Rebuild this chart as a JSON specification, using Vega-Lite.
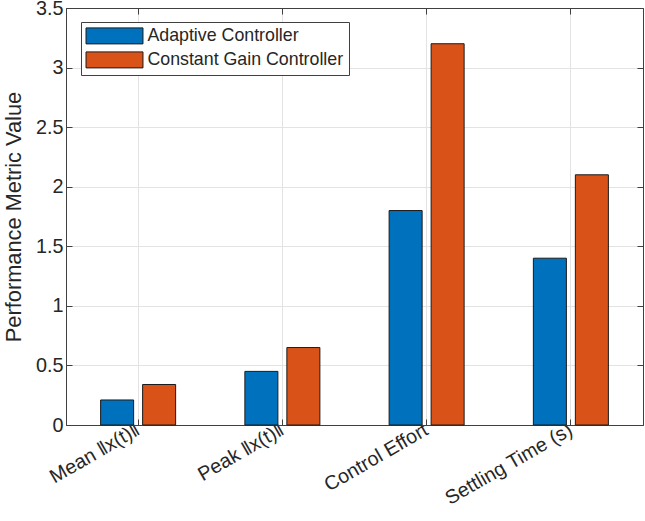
{
  "$schema": "https://vega.github.io/schema/vega-lite/v6.json",
  "width": 577,
  "height": 417,
  "autosize": {"type": "none"},
  "padding": {"left": 66, "top": 8, "right": 2, "bottom": 96},
  "background": "white",
  "config": {
    "font": "Liberation Sans",
    "view": {"stroke": "#404040", "strokeWidth": 1},
    "axis": {
      "domainColor": "#404040",
      "tickColor": "#404040",
      "gridColor": "#e3e3e3",
      "gridWidth": 1,
      "labelColor": "#262626",
      "titleColor": "#262626",
      "labelFont": "Liberation Sans",
      "titleFont": "Liberation Sans",
      "titleFontWeight": "normal"
    }
  },
  "data": {
    "values": [
      {"metric": "Mean ‖x(t)‖", "controller": "Adaptive Controller", "value": 0.21},
      {"metric": "Mean ‖x(t)‖", "controller": "Constant Gain Controller", "value": 0.34},
      {"metric": "Peak ‖x(t)‖", "controller": "Adaptive Controller", "value": 0.45},
      {"metric": "Peak ‖x(t)‖", "controller": "Constant Gain Controller", "value": 0.65},
      {"metric": "Control Effort", "controller": "Adaptive Controller", "value": 1.8},
      {"metric": "Control Effort", "controller": "Constant Gain Controller", "value": 3.2},
      {"metric": "Settling Time (s)", "controller": "Adaptive Controller", "value": 1.4},
      {"metric": "Settling Time (s)", "controller": "Constant Gain Controller", "value": 2.1}
    ]
  },
  "layer": [
    {
      "mark": {"type": "bar", "stroke": "#1a1a1a", "strokeWidth": 1},
      "encoding": {
        "x": {
          "field": "metric",
          "type": "nominal",
          "sort": ["Mean ‖x(t)‖", "Peak ‖x(t)‖", "Control Effort", "Settling Time (s)"],
          "scale": {"paddingInner": 0, "paddingOuter": 0},
          "axis": {
            "orient": "bottom",
            "title": null,
            "labelAngle": -30,
            "labelAlign": "right",
            "labelBaseline": "middle",
            "labelFontSize": 19.8,
            "labelPadding": 9,
            "labelLimit": 300,
            "tickSize": -6,
            "grid": true,
            "domain": true
          }
        },
        "xOffset": {
          "field": "controller",
          "type": "nominal",
          "sort": ["Adaptive Controller", "Constant Gain Controller"],
          "scale": {"paddingInner": 0.214, "paddingOuter": 0.824}
        },
        "y": {
          "field": "value",
          "type": "quantitative",
          "stack": null,
          "scale": {"domain": [0, 3.5], "nice": false, "zero": true},
          "axis": {
            "orient": "left",
            "title": "Performance Metric Value",
            "titleFontSize": 21.8,
            "titlePadding": 10,
            "labelFontSize": 19.8,
            "values": [0, 0.5, 1, 1.5, 2, 2.5, 3, 3.5],
            "format": "~g",
            "tickSize": -6,
            "labelPadding": 9,
            "grid": true
          }
        },
        "color": {
          "field": "controller",
          "type": "nominal",
          "sort": ["Adaptive Controller", "Constant Gain Controller"],
          "scale": {"range": ["#0072BD", "#D95319"]},
          "legend": {
            "title": null,
            "orient": "none",
            "legendX": 15,
            "legendY": 14,
            "direction": "vertical",
            "fillColor": "white",
            "strokeColor": "#404040",
            "padding": 5,
            "labelFontSize": 17.8,
            "labelColor": "#262626",
            "labelFont": "Liberation Sans",
            "labelLimit": 400,
            "symbolType": "M-3.56,-1H3.56V1H-3.56Z",
            "symbolSize": 256,
            "symbolStrokeColor": "#1a1a1a",
            "symbolStrokeWidth": 1,
            "symbolOffset": 19.6,
            "labelOffset": 24,
            "rowPadding": 3
          }
        }
      }
    },
    {
      "mark": {"type": "bar", "opacity": 0},
      "encoding": {
        "x": {
          "field": "metric",
          "type": "nominal",
          "sort": ["Mean ‖x(t)‖", "Peak ‖x(t)‖", "Control Effort", "Settling Time (s)"],
          "axis": {"orient": "top", "title": null, "labels": false, "tickSize": -6, "domain": true, "grid": false}
        },
        "y": {
          "field": "value",
          "type": "quantitative",
          "stack": null,
          "axis": {"orient": "right", "title": null, "labels": false, "values": [0, 0.5, 1, 1.5, 2, 2.5, 3, 3.5], "tickSize": -6, "grid": false}
        }
      }
    }
  ],
  "resolve": {"axis": {"x": "independent", "y": "independent"}}
}
